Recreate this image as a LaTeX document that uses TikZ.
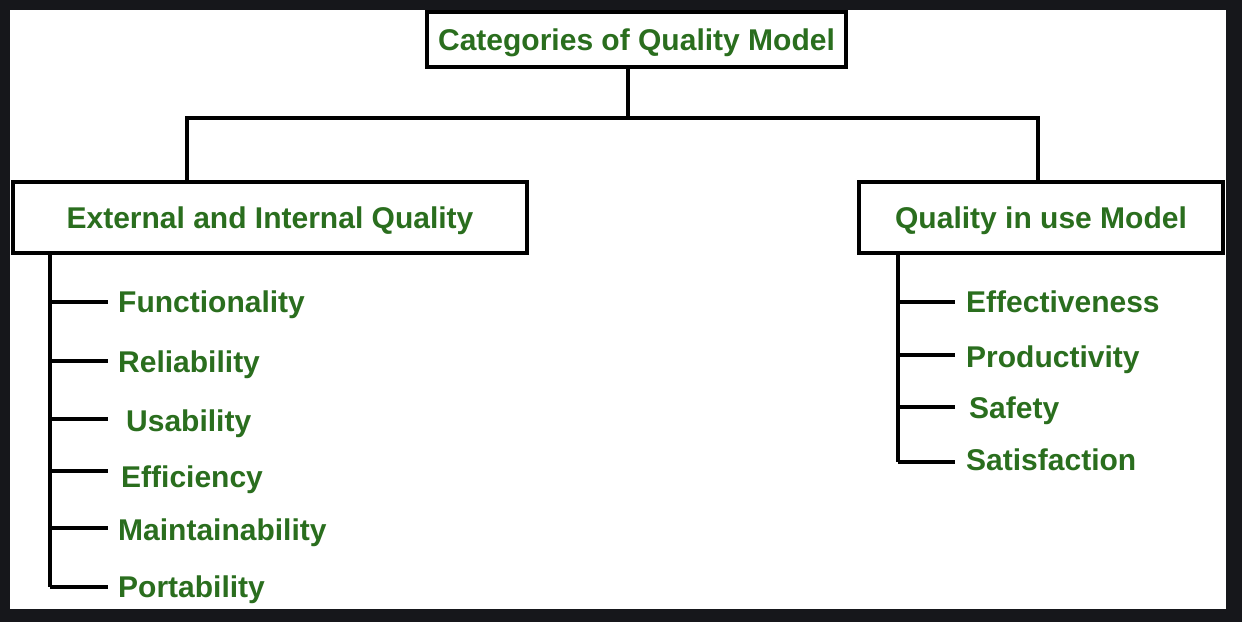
\documentclass[tikz,border=0pt]{standalone}
\usepackage{fontspec}
\setmainfont{Liberation Sans}
\definecolor{framecol}{RGB}{22,23,27}
\definecolor{labelgreen}{RGB}{42,110,30}
\begin{document}
\begin{tikzpicture}[x=1pt,y=-1pt,
  every node/.style={font=\fontsize{30}{36}\selectfont\bfseries, text=labelgreen},
  box/.style={draw=black, line width=4pt, fill=white, inner sep=0pt, text height=21.5pt, text depth=0pt},
  item/.style={anchor=west, inner sep=0pt, text height=21.5pt, text depth=0pt},
  wire/.style={draw=black, line width=4pt}]

  % dark frame and white canvas
  \fill[framecol] (0,0) rectangle (1242,622);
  \fill[white] (10,10) rectangle (1226,609);
  \useasboundingbox (0,0) rectangle (1242,622);

  % boxes
  \node[box, minimum width=419pt, minimum height=55pt] (top) at (636.5,39.5) {Categories of Quality Model};
  \node[box, minimum width=514pt, minimum height=71pt] (ext) at (270,217.5) {External and Internal Quality};
  \node[box, minimum width=364pt, minimum height=71pt] (qiu) at (1041,217.5) {Quality in use Model};

  % tree connectors
  \coordinate (j) at (628,118);
  \coordinate (jl) at (187,118);
  \coordinate (jr) at (1038,118);
  \draw[wire] (top.south -| j) -- (j);
  \draw[wire] (ext.north -| jl) -- (jl) -- (jr) -- (qiu.north -| jr);

  % left list
  \coordinate (lt) at (50,253);
  \coordinate (l1) at (108,302);
  \coordinate (l2) at (108,361);
  \coordinate (l3) at (108,419);
  \coordinate (l4) at (108,471);
  \coordinate (l5) at (108,528);
  \coordinate (l6) at (108,587);
  \node[item] (fun) at (118,302) {Functionality};
  \node[item] (rel) at (118,362) {Reliability};
  \node[item] (usa) at (126,421) {Usability};
  \node[item] (eff) at (121,477) {Efficiency};
  \node[item] (mai) at (118,530) {Maintainability};
  \node[item] (por) at (118,587) {Portability};
  \draw[wire] (ext.south -| lt) -- (lt |- l6);
  \foreach \c in {l1,l2,l3,l4,l5,l6} \draw[wire] (lt |- \c) -- (\c);

  % right list
  \coordinate (rt) at (898,253);
  \coordinate (r1) at (955,302);
  \coordinate (r2) at (955,355);
  \coordinate (r3) at (955,407);
  \coordinate (r4) at (955,462);
  \node[item] (efv) at (966,302) {Effectiveness};
  \node[item] (pro) at (966,357) {Productivity};
  \node[item] (saf) at (969,408) {Safety};
  \node[item] (sat) at (966,460) {Satisfaction};
  \draw[wire] (qiu.south -| rt) -- (rt |- r4);
  \foreach \c in {r1,r2,r3,r4} \draw[wire] (rt |- \c) -- (\c);
\end{tikzpicture}
\end{document}
